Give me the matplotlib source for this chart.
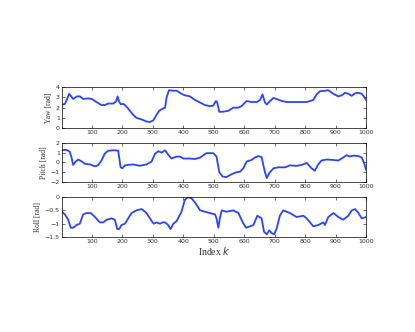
import matplotlib
matplotlib.use('Agg')
import matplotlib.pyplot as plt

# Yaw / Pitch / Roll traces, sampled by eye from the reference
yaw_k = [1, 11, 25, 38, 51, 60, 71, 88, 99, 120, 131, 142, 153, 170, 179, 184,
         189, 194, 205, 219, 235, 246, 263, 279, 290, 301, 312, 321, 332, 340,
         345, 353, 367, 378, 394, 405, 422, 438, 455, 471, 487, 498, 507, 511,
         518, 531, 548, 564, 581, 591, 608, 624, 641, 652, 660, 668, 674, 685,
         696, 706, 723, 739, 761, 783, 805, 827, 838, 849, 865, 876, 893, 909,
         920, 931, 942, 953, 964, 975, 986, 993, 1000]
yaw = [2.3, 2.35, 3.35, 2.85, 3.1, 3.1, 2.85, 2.9, 2.85, 2.45, 2.25, 2.25, 2.4,
       2.4, 2.6, 3.1, 2.6, 2.35, 2.35, 1.9, 1.3, 1.0, 0.85, 0.65, 0.6, 0.75,
       1.3, 1.7, 1.9, 2.0, 3.0, 3.7, 3.65, 3.65, 3.35, 3.2, 3.1, 2.75, 2.5,
       2.25, 2.15, 2.2, 2.65, 2.55, 1.6, 1.6, 1.7, 2.0, 2.0, 2.15, 2.65, 2.55,
       2.55, 2.75, 3.3, 2.5, 2.3, 2.65, 2.95, 2.85, 2.65, 2.55, 2.55, 2.55,
       2.55, 2.75, 3.3, 3.6, 3.65, 3.7, 3.35, 3.1, 3.2, 3.45, 3.35, 3.15, 3.4,
       3.45, 3.35, 3.1, 2.75]

pitch_k = [1, 16, 27, 33, 38, 47, 55, 66, 77, 93, 110, 120, 131, 142, 153, 175,
           186, 194, 200, 208, 219, 235, 257, 279, 296, 307, 318, 329, 340, 350,
           361, 378, 389, 400, 422, 438, 455, 476, 498, 509, 518, 529, 542, 559,
           575, 586, 597, 608, 624, 635, 646, 657, 668, 674, 682, 696, 712, 734,
           750, 772, 789, 805, 821, 832, 843, 854, 871, 893, 909, 925, 936, 947,
           958, 975, 986, 993, 1000]
pitch = [1.25, 1.3, 1.1, 0.5, -0.25, 0.1, 0.3, 0.1, -0.15, -0.2, -0.4, -0.3,
         0.2, 0.9, 1.2, 1.25, 1.2, -0.5, -0.6, -0.3, -0.25, -0.2, -0.35, -0.2,
         0.1, 0.9, 1.15, 1.0, 1.25, 0.8, 0.4, 0.6, 0.6, 0.4, 0.4, 0.35, 0.5,
         0.95, 0.95, 0.6, -1.0, -1.45, -1.5, -1.2, -1.0, -0.95, -0.6, 0.1, 0.25,
         0.5, 0.65, 0.55, -1.0, -1.6, -1.1, -0.6, -0.5, -0.5, -0.3, -0.35,
         -0.25, -0.05, -0.6, -0.85, -0.2, 0.2, 0.3, 0.25, 0.2, 0.5, 0.75, 0.6,
         0.7, 0.65, 0.5, 0.0, -0.75]

roll_k = [1, 11, 22, 30, 38, 49, 60, 71, 82, 96, 110, 126, 137, 148, 164, 175,
          183, 189, 197, 208, 219, 230, 246, 263, 279, 296, 303, 312, 323, 332,
          340, 345, 350, 358, 367, 378, 394, 405, 416, 427, 438, 455, 471, 487,
          504, 509, 515, 520, 526, 542, 564, 581, 595, 606, 619, 630, 643, 657,
          665, 674, 682, 690, 698, 706, 717, 728, 750, 772, 794, 805, 827, 843,
          860, 865, 876, 893, 909, 925, 942, 953, 964, 975, 986, 1000]
roll = [-0.55, -0.65, -0.85, -1.15, -1.15, -1.05, -1.0, -0.65, -0.6, -0.6,
        -0.75, -0.95, -0.95, -0.85, -0.8, -0.85, -1.2, -1.2, -1.05, -1.0, -0.8,
        -0.6, -0.5, -0.45, -0.6, -0.9, -1.0, -0.95, -1.0, -0.95, -0.95, -1.0,
        -1.05, -1.2, -1.0, -0.9, -0.55, -0.1, 0.0, -0.05, -0.2, -0.5, -0.55,
        -0.6, -0.65, -0.8, -1.15, -0.8, -0.5, -0.55, -0.5, -0.6, -0.95, -1.15,
        -1.1, -1.05, -0.7, -0.8, -1.3, -1.4, -1.25, -1.35, -1.4, -1.2, -0.7,
        -0.5, -0.6, -0.75, -0.7, -0.8, -1.1, -1.05, -0.95, -1.05, -0.75, -0.6,
        -0.75, -0.85, -0.7, -0.5, -0.45, -0.6, -0.8, -0.75]

xticks = [100, 200, 300, 400, 500, 600, 700, 800, 900, 1000]
LINE_C = '#2a44ff'
SERIF = ['Liberation Serif', 'DejaVu Serif']

fig = plt.figure(figsize=(4.15, 3.32), dpi=100)
fig.patch.set_facecolor('white')

panels = [
    (yaw_k, yaw, 'Yaw [rad]', (0, 4), [0, 1, 2, 3, 4], [0.149, 0.614, 0.733, 0.1235]),
    (pitch_k, pitch, 'Pitch [rad]', (-2, 2), [-2, -1, 0, 1, 2], [0.149, 0.452, 0.733, 0.1175]),
    (roll_k, roll, 'Roll [rad]', (-1.5, 0), [-1.5, -1, -0.5, 0], [0.149, 0.286, 0.733, 0.1205]),
]

for i, (kk, vv, lab, ylim, yt, rect) in enumerate(panels):
    ax = fig.add_axes(rect)
    ax.plot(kk, vv, color=LINE_C, linewidth=1.3, solid_joinstyle='round')
    ax.set_xlim(1, 1000)
    ax.set_ylim(*ylim)
    ax.set_xticks(xticks)
    ax.set_yticks(yt)
    ax.set_yticklabels([('%g' % t).replace('-', '\u2212') for t in yt])
    ax.tick_params(direction='in', labelsize=4.5, length=2, width=0.4,
                   top=True, right=True, pad=1.5, labelcolor='#333333')
    for s in ax.spines.values():
        s.set_linewidth(0.5)
    ax.set_ylabel(lab, fontsize=5.5, family=SERIF, labelpad=2, color='#333333')
    if i == 2:
        ax.set_xlabel(r'Index $k$', fontsize=7, family=SERIF, labelpad=0.5,
                      color='#333333')

fig.savefig('out.png', dpi=100, facecolor='white')
